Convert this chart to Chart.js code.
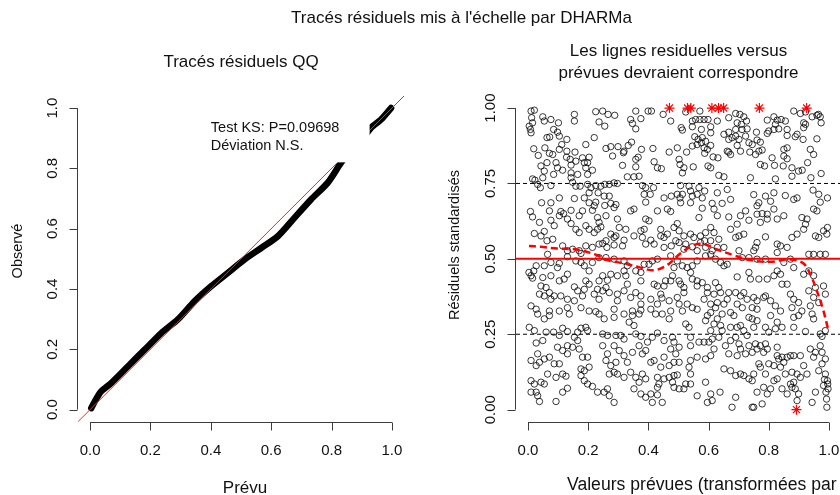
<!DOCTYPE html>
<html lang="fr">
<head>
<meta charset="utf-8">
<script src="https://cdn.jsdelivr.net/npm/chart.js@4.4.1/dist/chart.umd.min.js"></script>
<style>
  html, body { margin: 0; padding: 0; background: #fff; }
  #page { position: relative; width: 840px; height: 495px; overflow: hidden; }
  #qqChart { position: absolute; left: 0; top: 0; }
  #residChart { position: absolute; left: 420px; top: 0; }
  #mainTitle {
    position: absolute; left: 0; top: 8px; width: 923px; text-align: center;
    font: 17px "Liberation Sans", Arial, sans-serif; line-height: 20px; color: #111;
  }
</style>
</head>
<body>
<div id="page">
  <canvas id="qqChart" width="420" height="495"></canvas>
  <canvas id="residChart" width="520" height="495"></canvas>
  <div id="mainTitle">Tracés résiduels mis à l'échelle par DHARMa</div>
</div>
<script>
const FONT = '"Liberation Sans", Arial, sans-serif';

// QQ plot of the scaled residuals (expected uniform quantile vs observed)
const qqExpected = [0.004, 0.02, 0.037, 0.07, 0.126, 0.181, 0.236, 0.291, 0.346, 0.401, 0.456, 0.512,
  0.567, 0.622, 0.677, 0.732, 0.787, 0.831, 0.86, 0.9, 0.931, 0.964, 0.997];
const qqObserved = [0.005, 0.035, 0.061, 0.088, 0.144, 0.199, 0.254, 0.299, 0.359, 0.409, 0.453, 0.498,
  0.536, 0.575, 0.636, 0.697, 0.752, 0.818, 0.855, 0.895, 0.935, 0.962, 1.0];
const ksLines = ['Test KS: P=0.09698', 'Déviation N.S.'];

const unitTicks = [0, 0.2, 0.4, 0.6, 0.8, 1.0];
const quartileTicks = [0, 0.25, 0.5, 0.75, 1.0];
const span = [-0.04, 1.04];

// residual vs rank-transformed prediction, [prediction, scaled residual]
const residPoints = [
  [.010,.990],[.021,.993],[.154,.979],[.225,.988],[.248,.990],[.266,.979],[.288,.976],[.358,.990],[.399,.990],[.410,.990],
  [.449,.979],[.474,.957],[.049,.971],[.054,.957],[.076,.962],[.101,.951],[.012,.968],[.015,.951],[.004,.940],[.008,.929],
  [.010,.918],[.154,.957],[.236,.954],[.255,.940],[.341,.962],[.347,.949],[.375,.965],[.358,.931],[.085,.929],[.098,.920],
  [.104,.907],[.063,.902],[.072,.904],[.129,.896],[.220,.902],[.112,.879],[.192,.879],[.019,.865],[.056,.868],[.259,.866],
  [.275,.872],[.299,.872],[.319,.857],[.333,.876],[.344,.887],[.377,.863],[.415,.866],[.469,.854],[.496,.868],[.034,.843],
  [.071,.850],[.082,.846],[.104,.863],[.129,.857],[.128,.837],[.140,.830],[.156,.854],[.159,.824],[.181,.835],[.203,.837],
  [.198,.819],[.281,.841],[.317,.852],[.358,.830],[.366,.837],[.314,.810],[.358,.805],[.419,.822],[.430,.802],[.443,.799],
  [.043,.808],[.054,.791],[.063,.819],[.093,.819],[.098,.802],[.115,.794],[.143,.811],[.143,.785],[.165,.780],[.187,.819],
  [.192,.802],[.214,.794],[.198,.780],[.085,.780],[.049,.769],[.015,.765],[.023,.761],[.032,.747],[.041,.736],[.076,.743],
  [.143,.769],[.148,.754],[.159,.741],[.173,.741],[.198,.747],[.209,.736],[.225,.743],[.242,.741],[.255,.747],[.270,.747],
  [.286,.752],[.297,.750],[.330,.772],[.352,.772],[.369,.774],[.380,.743],[.391,.736],[.417,.736],[.386,.714],[.406,.714],
  [.233,.719],[.253,.708],[.270,.708],[.203,.719],[.187,.702],[.203,.686],[.225,.688],[.104,.702],[.045,.686],[.076,.686],
  [.154,.700],[.255,.677],[.292,.680],[.391,.688],[.452,.702],[.476,.708],[.496,.714],[.275,.684],
  [.524,.987],[.546,.957],[.557,.962],[.571,.962],[.585,.962],[.598,.962],[.629,.957],[.571,.990],[.667,.968],[.690,.982],
  [.704,.979],[.717,.971],[.726,.957],[.695,.951],[.709,.946],[.728,.931],[.711,.929],[.690,.929],[.667,.920],[.651,.913],
  [.546,.938],[.509,.935],[.513,.927],[.576,.929],[.607,.938],[.607,.918],[.554,.905],[.565,.896],[.579,.902],[.576,.885],
  [.562,.879],[.546,.874],[.590,.890],[.607,.876],[.585,.868],[.596,.863],[.527,.854],[.587,.850],[.615,.838],[.631,.835],
  [.667,.896],[.678,.902],[.690,.907],[.701,.896],[.695,.876],[.706,.857],[.723,.907],[.734,.885],[.745,.879],[.761,.894],
  [.772,.887],[.759,.920],[.778,.861],[.767,.857],[.756,.846],[.737,.854],[.667,.854],[.673,.846],[.662,.857],[.795,.960],
  [.817,.971],[.828,.960],[.841,.962],[.855,.957],[.817,.929],[.822,.946],[.833,.931],[.861,.929],[.861,.909],[.800,.924],
  [.795,.916],[.883,.990],[.905,.982],[.922,.987],[.916,.951],[.922,.946],[.916,.935],[.888,.905],[.894,.913],[.914,.896],
  [.944,.971],[.960,.976],[.971,.971],[.974,.951],[.960,.898],[.850,.863],[.861,.868],[.850,.841],[.861,.832],[.811,.835],
  [.819,.810],[.848,.808],[.877,.802],[.911,.794],[.899,.791],[.877,.774],[.929,.819],[.938,.863],[.949,.846],[.974,.783],
  [.940,.769],[.822,.765],[.772,.813],[.786,.808],[.739,.769],[.651,.772],[.634,.777],[.607,.802],[.598,.808],[.518,.802],
  [.505,.813],[.549,.805],[.502,.830],[.513,.785],[.507,.743],[.535,.741],[.540,.725],[.568,.736],[.587,.725],[.562,.714],
  [.546,.708],[.513,.714],[.505,.702],[.507,.686],[.540,.686],[.579,.702],[.612,.684],[.629,.719],[.645,.684],[.662,.730],
  [.673,.697],[.750,.713],[.767,.686],[.789,.708],[.817,.719],[.806,.691],[.855,.710],[.883,.697],[.894,.702],[.947,.728],
  [.966,.714],[.971,.688],[.995,.702],[.965,.979],
  [.008,.657],[.015,.639],[.038,.621],[.076,.628],[.087,.610],[.104,.643],[.118,.650],[.071,.659],[.109,.657],[.143,.661],
  [.170,.643],[.181,.659],[.214,.661],[.220,.676],[.231,.637],[.236,.621],[.259,.643],[.286,.670],[.297,.632],[.303,.604],
  [.325,.598],[.341,.659],[.352,.665],[.391,.632],[.402,.626],[.430,.659],[.463,.665],[.474,.657],[.441,.598],[.485,.604],
  [.496,.617],[.021,.584],[.043,.576],[.054,.591],[.082,.565],[.063,.560],[.131,.632],[.143,.617],[.159,.598],[.170,.587],
  [.192,.610],[.203,.598],[.220,.587],[.231,.598],[.242,.606],[.275,.582],[.286,.571],[.292,.576],[.259,.560],[.248,.551],
  [.286,.546],[.314,.543],[.319,.562],[.352,.576],[.380,.571],[.375,.593],[.386,.598],[.391,.549],[.408,.562],[.419,.549],
  [.441,.576],[.452,.571],[.463,.582],[.476,.543],[.491,.560],[.452,.538],[.192,.543],[.214,.538],[.236,.549],[.262,.538],
  [.115,.543],[.131,.527],[.148,.532],[.170,.527],[.176,.518],[.065,.515],[.076,.488],[.104,.485],[.098,.471],[.027,.477],
  [.019,.460],[.010,.444],[.015,.436],[.003,.455],[.054,.477],[.131,.507],[.159,.493],[.176,.488],[.214,.488],[.236,.504],
  [.259,.504],[.286,.499],[.319,.493],[.330,.477],[.319,.460],[.325,.444],[.358,.460],[.375,.455],[.386,.482],[.402,.482],
  [.413,.493],[.430,.499],[.474,.510],[.496,.493],[.485,.471],[.480,.444],[.457,.427],[.474,.427],[.419,.416],[.430,.410],
  [.452,.410],[.441,.383],[.445,.370],[.375,.427],[.330,.416],[.297,.444],[.275,.449],[.264,.429],[.248,.444],[.236,.427],
  [.203,.460],[.187,.477],[.192,.427],[.203,.416],[.187,.399],[.165,.394],[.154,.407],[.131,.449],[.120,.433],[.104,.427],
  [.076,.444],[.049,.438],[.043,.410],[.060,.405],[.071,.388],[.054,.377],[.038,.383],[.076,.366],[.087,.377],[.109,.377],
  [.131,.366],[.154,.361],[.181,.377],[.220,.383],[.231,.399],[.248,.394],[.259,.405],[.270,.388],[.236,.366],[.297,.383],
  [.297,.361],[.319,.394],[.341,.372],[.358,.388],[.375,.377],[.375,.350],[.408,.366],[.430,.350],[.469,.361],[.496,.372],
  [.010,.344],[.027,.333],[.071,.327],[.104,.327],[.131,.338],[.176,.338],[.203,.327],[.225,.325],[.286,.333],[.347,.327],
  [.375,.330],[.408,.333],[.474,.327],
  [.579,.668],[.618,.665],[.629,.643],[.568,.637],[.667,.639],[.706,.643],[.723,.659],[.761,.676],[.761,.648],[.778,.650],
  [.795,.648],[.817,.665],[.828,.632],[.850,.643],[.795,.632],[.772,.621],[.734,.628],[.695,.615],[.673,.598],[.701,.576],
  [.717,.582],[.690,.571],[.607,.604],[.618,.587],[.590,.587],[.573,.576],[.540,.582],[.518,.576],[.502,.593],[.502,.554],
  [.524,.549],[.551,.571],[.573,.554],[.587,.560],[.607,.560],[.634,.565],[.651,.538],[.629,.538],[.612,.527],[.590,.538],
  [.562,.527],[.546,.540],[.518,.532],[.789,.573],[.761,.554],[.750,.527],[.756,.538],[.701,.527],[.712,.504],[.734,.504],
  [.761,.499],[.789,.499],[.828,.549],[.839,.543],[.861,.538],[.877,.571],[.894,.582],[.910,.637],[.927,.632],[.922,.615],
  [.916,.598],[.949,.665],[.960,.659],[.955,.576],[.966,.571],[.982,.593],[.995,.604],[.993,.582],[.933,.515],[.949,.515],
  [.971,.515],[.988,.515],[.828,.521],[.850,.488],[.872,.499],[.883,.471],[.828,.460],[.839,.449],[.817,.444],[.795,.433],
  [.767,.433],[.739,.433],[.734,.455],[.695,.440],[.651,.477],[.662,.482],[.640,.488],[.623,.499],[.607,.515],[.590,.510],
  [.562,.493],[.546,.477],[.529,.471],[.540,.455],[.513,.477],[.502,.427],[.507,.416],[.518,.405],[.546,.433],[.562,.427],
  [.579,.421],[.562,.410],[.596,.405],[.623,.421],[.634,.405],[.640,.388],[.618,.383],[.596,.388],[.585,.366],[.518,.388],
  [.529,.350],[.502,.350],[.546,.338],[.607,.350],[.629,.355],[.623,.338],[.651,.350],[.662,.366],[.667,.388],[.690,.388],
  [.717,.388],[.706,.377],[.728,.366],[.750,.372],[.783,.372],[.789,.377],[.761,.361],[.806,.361],[.844,.416],[.861,.416],
  [.872,.383],[.883,.366],[.899,.355],[.916,.449],[.933,.460],[.949,.444],[.955,.405],[.982,.410],[.988,.383],[.933,.394],
  [.949,.372],[.966,.355],[.938,.344],[.910,.327],[.877,.338],[.839,.327],[.822,.344],[.761,.333],[.745,.338],[.712,.338],
  [.695,.350],[.673,.322],[.607,.322],[.562,.333],[.513,.327],
  [.032,.317],[.054,.301],[.071,.312],[.137,.317],[.236,.317],[.253,.301],[.286,.306],[.319,.317],[.347,.312],[.369,.317],
  [.424,.317],[.446,.317],[.469,.301],[.004,.273],[.021,.262],[.060,.257],[.085,.257],[.104,.246],[.115,.270],[.131,.259],
  [.154,.240],[.165,.257],[.176,.270],[.192,.273],[.198,.262],[.248,.251],[.264,.246],[.292,.246],[.308,.246],[.319,.234],
  [.336,.290],[.352,.279],[.358,.251],[.375,.243],[.397,.224],[.413,.240],[.430,.254],[.452,.229],[.480,.240],[.485,.224],
  [.027,.221],[.049,.229],[.032,.185],[.054,.168],[.071,.174],[.087,.152],[.104,.152],[.038,.157],[.027,.146],[.010,.163],
  [.098,.207],[.115,.196],[.131,.185],[.131,.212],[.148,.207],[.165,.229],[.170,.201],[.181,.174],[.198,.174],[.176,.135],
  [.187,.129],[.203,.141],[.248,.212],[.264,.185],[.259,.163],[.275,.146],[.292,.157],[.319,.179],[.330,.157],[.303,.196],
  [.286,.212],[.347,.190],[.369,.212],[.380,.185],[.391,.196],[.408,.157],[.419,.163],[.441,.141],[.469,.146],[.485,.157],
  [.452,.174],[.474,.201],[.491,.185],[.286,.124],[.270,.118],[.297,.118],[.319,.107],[.341,.124],[.358,.107],[.380,.118],
  [.391,.102],[.430,.107],[.452,.102],[.469,.107],[.485,.113],[.496,.115],[.010,.096],[.021,.085],[.043,.091],[.054,.085],
  [.065,.118],[.093,.107],[.115,.118],[.126,.111],[.115,.058],[.131,.071],[.176,.113],[.187,.096],[.198,.085],[.214,.077],
  [.231,.058],[.253,.058],[.264,.069],[.270,.046],[.286,.024],[.352,.069],[.369,.091],[.375,.052],[.391,.041],[.408,.052],
  [.430,.049],[.430,.074],[.435,.085],[.413,.024],[.446,.024],[.480,.091],[.485,.074],[.010,.058],[.027,.058],[.032,.046],
  [.038,.027],[.093,.027],
  [.596,.312],[.629,.301],[.645,.317],[.684,.312],[.734,.306],[.745,.301],[.761,.295],[.806,.312],[.828,.290],[.883,.306],
  [.899,.312],[.949,.301],[.944,.317],[.524,.284],[.535,.273],[.590,.295],[.618,.284],[.640,.279],[.607,.262],[.645,.262],
  [.673,.273],[.695,.273],[.706,.279],[.717,.262],[.750,.273],[.789,.273],[.800,.257],[.822,.268],[.844,.273],[.883,.273],
  [.922,.259],[.971,.251],[.977,.243],[.988,.262],[.540,.240],[.540,.212],[.502,.207],[.568,.224],[.585,.224],[.601,.224],
  [.612,.234],[.634,.240],[.656,.212],[.673,.229],[.690,.240],[.701,.218],[.706,.201],[.728,.246],[.734,.212],[.756,.218],
  [.761,.201],[.772,.212],[.789,.218],[.783,.190],[.795,.201],[.828,.207],[.745,.190],[.723,.185],[.695,.179],[.667,.185],
  [.618,.201],[.607,.179],[.590,.168],[.562,.174],[.540,.163],[.535,.141],[.502,.157],[.540,.118],[.524,.085],[.502,.069],
  [.518,.069],[.540,.085],[.562,.046],[.590,.091],[.607,.052],[.612,.030],[.596,.024],[.638,.058],[.651,.135],[.673,.129],
  [.690,.113],[.706,.118],[.717,.113],[.734,.102],[.750,.118],[.767,.152],[.772,.141],[.789,.118],[.800,.152],[.817,.146],
  [.828,.179],[.833,.168],[.844,.174],[.861,.174],[.872,.179],[.883,.179],[.850,.157],[.839,.141],[.855,.118],[.877,.124],
  [.894,.118],[.905,.179],[.916,.146],[.938,.201],[.949,.174],[.955,.190],[.971,.212],[.977,.190],[.988,.168],[.977,.152],
  [.966,.129],[.988,.118],[.995,.096],[.985,.100],[.996,.085],[.982,.080],[.997,.069],[.990,.058],[.992,.035],[.993,.008],
  [.955,.058],[.944,.024],[.927,.118],[.905,.107],[.883,.091],[.872,.085],[.877,.074],[.888,.069],[.899,.052],[.894,.030],
  [.861,.052],[.844,.069],[.817,.096],[.828,.102],[.806,.069],[.795,.052],[.783,.074],[.761,.058],[.745,.096],[.690,.041],
  [.678,.008],[.745,.008],[.750,.008],[.778,.019]
];

// residuals outside the simulation envelope
const outlierPoints = [[.470,1],[.530,1],[.541,1],[.611,1],[.633,1],[.650,1],[.769,1],[.926,1],[.892,0]];

// fitted median (quantile regression spline)
const splineX = [.003,.042,.097,.153,.186,.230,.263,.318,.374,.418,.462,.506,.550,.583,.628,.683,.738,.804,.871,.915,.937,.959,.981,.998];
const splineY = [.543,.540,.534,.532,.526,.512,.496,.485,.471,.462,.479,.518,.545,.549,.531,.512,.496,.490,.498,.485,.451,.396,.330,.263];

const guideLevels = [0.25, 0.75];
const medianLevel = 0.5;

// R style axes: detached lines from first to last tick, rotated y labels
const rAxes = {
  id: 'rAxes',
  afterDraw(chart, _args, o) {
    const { ctx, chartArea: a, scales: { x, y } } = chart;
    ctx.save();
    ctx.strokeStyle = '#3c3c3c';
    ctx.fillStyle = '#111';
    ctx.lineWidth = 1;
    const base = Math.round(a.bottom) + 0.5;
    const left = Math.round(a.left) - 0.5;
    ctx.beginPath();
    ctx.moveTo(x.getPixelForValue(o.xTicks[0]), base);
    ctx.lineTo(x.getPixelForValue(o.xTicks[o.xTicks.length - 1]), base);
    for (const v of o.xTicks) {
      const p = Math.round(x.getPixelForValue(v)) + 0.5;
      ctx.moveTo(p, base);
      ctx.lineTo(p, base + 8);
    }
    ctx.moveTo(left, y.getPixelForValue(o.yTicks[0]));
    ctx.lineTo(left, y.getPixelForValue(o.yTicks[o.yTicks.length - 1]));
    for (const v of o.yTicks) {
      const p = Math.round(y.getPixelForValue(v)) + 0.5;
      ctx.moveTo(left, p);
      ctx.lineTo(left - 8, p);
    }
    ctx.stroke();

    ctx.font = '15px ' + FONT;
    ctx.textAlign = 'center';
    ctx.textBaseline = 'alphabetic';
    for (const v of o.xTicks) {
      ctx.fillText(v.toFixed(o.xDigits), x.getPixelForValue(v), a.bottom + 33);
    }
    for (const v of o.yTicks) {
      ctx.save();
      ctx.translate(a.left - 21, y.getPixelForValue(v));
      ctx.rotate(-Math.PI / 2);
      ctx.fillText(v.toFixed(o.yDigits), 0, 0);
      ctx.restore();
    }

    ctx.font = o.xTitleSize + 'px ' + FONT;
    ctx.textAlign = o.xTitleAlign;
    ctx.fillText(o.xTitle, o.xTitlePos[0], o.xTitlePos[1]);
    ctx.textAlign = 'center';
    ctx.font = '14.5px ' + FONT;
    ctx.save();
    ctx.translate(o.yTitlePos[0], o.yTitlePos[1]);
    ctx.rotate(-Math.PI / 2);
    ctx.textBaseline = 'middle';
    ctx.fillText(o.yTitle, 0, 0);
    ctx.restore();

    ctx.font = '17px ' + FONT;
    ctx.textBaseline = 'middle';
    o.title.forEach((t, i) => ctx.fillText(t, (a.left + a.right) / 2, o.titleY[i]));
    ctx.restore();
  }
};

// white legend box with the KS test result, drawn over the QQ curve
const ksLegend = {
  id: 'ksLegend',
  afterDatasetsDraw(chart, _args, o) {
    const { ctx, chartArea: a, scales: { x, y } } = chart;
    ctx.save();
    ctx.fillStyle = '#fff';
    const x0 = x.getPixelForValue(o.box[0]);
    const x1 = x.getPixelForValue(o.box[1]);
    const y0 = y.getPixelForValue(o.box[2]);
    ctx.fillRect(x0, a.top, x1 - x0, y0 - a.top);
    ctx.fillStyle = '#111';
    ctx.font = '14.5px ' + FONT;
    ctx.textAlign = 'left';
    ctx.textBaseline = 'middle';
    o.lines.forEach((t, i) => ctx.fillText(t, x.getPixelForValue(o.textX), y.getPixelForValue(o.textY[i])));
    ctx.restore();
  }
};

const baseOptions = (padding) => ({
  responsive: false,
  animation: false,
  events: [],
  layout: { padding },
  scales: {
    x: { type: 'linear', min: span[0], max: span[1], display: false },
    y: { type: 'linear', min: span[0], max: span[1], display: false }
  }
});

const line = (pts, color, width, extra) => Object.assign({
  data: pts.map(([x, y]) => ({ x, y })),
  showLine: true,
  borderColor: color,
  borderWidth: width,
  pointRadius: 0,
  fill: false
}, extra || {});

// left panel: QQ plot
const qqOpts = baseOptions({ left: 78, right: 16, top: 96, bottom: 73.3 });
qqOpts.plugins = {
  legend: { display: false },
  tooltip: { enabled: false },
  rAxes: {
    xTicks: unitTicks, yTicks: unitTicks, xDigits: 1, yDigits: 1,
    xTitle: 'Prévu', xTitleSize: 17, xTitleAlign: 'center', xTitlePos: [245, 493],
    yTitle: 'Observé', yTitlePos: [18, 251],
    title: ['Tracés résiduels QQ'], titleY: [62]
  },
  ksLegend: { box: [0.37, 0.926, 0.82], lines: ksLines, textX: 0.40, textY: [0.934, 0.874] }
};
new Chart(document.getElementById('qqChart'), {
  type: 'scatter',
  data: {
    datasets: [
      line(span.map(v => [v, v]), '#ff2020', 1),
      line(qqExpected.map((v, i) => [v, qqObserved[i]]), '#000', 6.5,
        { borderCapStyle: 'round', borderJoinStyle: 'round', tension: 0.25 })
    ]
  },
  options: qqOpts,
  plugins: [rAxes, ksLegend]
});

// right panel: residuals against predicted values
const resOpts = baseOptions({ left: 96, right: 99, top: 96, bottom: 73.3 });
resOpts.plugins = {
  legend: { display: false },
  tooltip: { enabled: false },
  rAxes: {
    xTicks: unitTicks, yTicks: quartileTicks, xDigits: 1, yDigits: 2,
    xTitle: 'Valeurs prévues (transformées par rang)', xTitleSize: 17.6, xTitleAlign: 'left', xTitlePos: [147, 490],
    yTitle: 'Résiduels standardisés', yTitlePos: [35, 245],
    title: ['Les lignes residuelles versus', 'prévues devraient correspondre'], titleY: [51, 73]
  }
};
new Chart(document.getElementById('residChart'), {
  type: 'scatter',
  data: {
    datasets: [
      line(splineX.map((v, i) => [v, splineY[i]]), '#ff0000', 2.5,
        { borderDash: [7, 4], tension: 0.35 }),
      line(span.map(v => [v, medianLevel]), '#ff0000', 2),
      ...guideLevels.map(h => line(span.map(v => [v, h]), '#000', 1, { borderDash: [4, 3] })),
      {
        data: outlierPoints.map(([x, y]) => ({ x, y })),
        pointStyle: 'star',
        pointRadius: 5,
        borderColor: '#ff0000',
        borderWidth: 1.2
      },
      {
        data: residPoints.map(([x, y]) => ({ x, y })),
        pointStyle: 'circle',
        pointRadius: 3.2,
        borderColor: 'rgba(0,0,0,0.78)',
        backgroundColor: 'rgba(0,0,0,0)',
        borderWidth: 1
      }
    ]
  },
  options: resOpts,
  plugins: [rAxes]
});
</script>
</body>
</html>
